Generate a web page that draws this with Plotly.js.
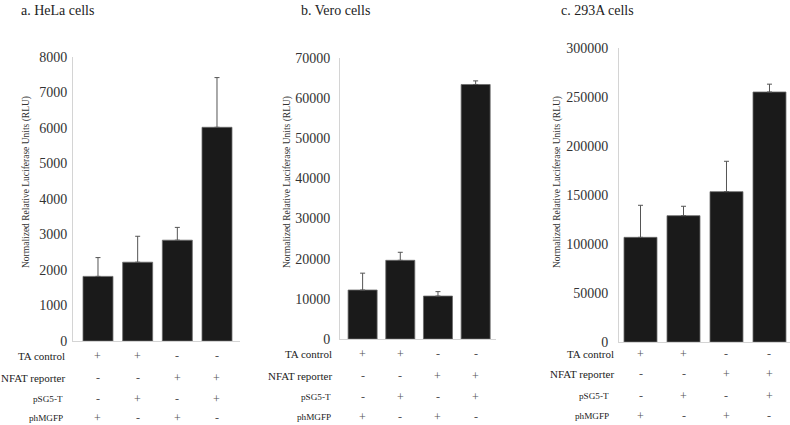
<!DOCTYPE html>
<html>
<head>
<meta charset="utf-8">
<script src="https://cdn.plot.ly/plotly-3.0.1.min.js"></script>
<style>html,body{margin:0;padding:0;background:#fff;}#chart{width:790px;height:425px;}</style>
</head>
<body>
<div id="chart"></div>
<script>
// ---- data ----
const conditions = ["1", "2", "3", "4"];
const helaValues = [1820, 2220, 2840, 6020];
const helaErrors = [530, 730, 360, 1400];
const veroValues = [12200, 19600, 10700, 63400];
const veroErrors = [4200, 2000, 1100, 900];
const a293Values = [106800, 128900, 153400, 255100];
const a293Errors = [32700, 9600, 31000, 8000];
const panelTitles = ["a. HeLa cells", "b. Vero cells", "c. 293A cells"];
const yTitle = "Normalized Relative Luciferase Units (RLU)";
const rowLabels = ["TA control", "NFAT reporter", "pSG5-T", "phMGFP"];
const taControl = ["+", "+", "-", "-"];
const nfatReporter = ["-", "-", "+", "+"];
const pSG5T = ["-", "+", "-", "+"];
const phMGFP = ["+", "-", "+", "-"];
const helaTicks = [0, 1000, 2000, 3000, 4000, 5000, 6000, 7000, 8000];
const veroTicks = [0, 10000, 20000, 30000, 40000, 50000, 60000, 70000];
const a293Ticks = [0, 50000, 100000, 150000, 200000, 250000, 300000];

// ---- styling / layout ----
const W = 790, H = 425;
const px = v => v / W;
const py = v => 1 - v / H;
const serif = "Liberation Serif";
const xs = conditions.map((_, i) => i);

const panels = [
  {vals: helaValues, errs: helaErrors, ticks: helaTicks, max: 8000,
   xdom: [73, 240], xr: [-0.63, 3.58], ydom: [341, 57], barW: 0.756, standoff: 2,
   titleX: 19, yTitleX: 26, labX: [66, 66, 64, 64], rowsY: [356, 378, 399, 418]},
  {vals: veroValues, errs: veroErrors, ticks: veroTicks, max: 70000,
   xdom: [340, 496], xr: [-0.6, 3.54], ydom: [339, 58], barW: 0.77, standoff: 6,
   titleX: 299, yTitleX: 287, labX: [333, 333, 332, 332], rowsY: [354, 376, 397, 417]},
  {vals: a293Values, errs: a293Errors, ticks: a293Ticks, max: 300000,
   xdom: [619, 790], xr: [-0.5, 3.477], ydom: [342, 48], barW: 0.767, standoff: 7,
   titleX: 559, yTitleX: 557, labX: [615, 615, 610, 610], rowsY: [353.5, 374, 396, 416]}
];
const rows = [taControl, nfatReporter, pSG5T, phMGFP];
const labSizes = [11, 11, 9.2, 9.2];

const traces = [];
const layout = {
  width: W, height: H,
  margin: {l: 0, r: 0, t: 0, b: 0},
  paper_bgcolor: "#fff", plot_bgcolor: "rgba(0,0,0,0)",
  showlegend: false,
  font: {family: serif, color: "#333"},
  annotations: []
};

panels.forEach((p, k) => {
  const n = k === 0 ? "" : String(k + 1);
  traces.push({
    type: "bar", x: xs, y: p.vals, width: p.barW,
    xaxis: "x" + n, yaxis: "y" + n,
    marker: {color: "#1a1a1a", line: {color: "#6a6a6a", width: 0.8}},
    error_y: {type: "data", array: p.errs, symmetric: false,
              arrayminus: p.errs.map(() => 0),
              color: "#555", thickness: 1, width: 2.5},
    hoverinfo: "skip"
  });
  layout["xaxis" + n] = {
    domain: [px(p.xdom[0]), px(p.xdom[1])],
    anchor: "y" + n, range: p.xr,
    showticklabels: false, ticks: "", showgrid: false, zeroline: false,
    showline: true, linecolor: "#d4d4d4", linewidth: 1, fixedrange: true
  };
  layout["yaxis" + n] = {
    domain: [py(p.ydom[0]), py(p.ydom[1])],
    anchor: "x" + n, range: [0, p.max],
    tickmode: "array", tickvals: p.ticks, ticktext: p.ticks.map(String),
    ticks: "", showgrid: false, zeroline: false,
    showline: true, linecolor: "#d4d4d4", linewidth: 1,
    ticklabelstandoff: p.standoff,
    tickfont: {family: serif, size: 14, color: "#333"}, fixedrange: true
  };
  layout.annotations.push({
    text: panelTitles[k], xref: "paper", yref: "paper",
    x: px(p.titleX), y: py(10), xanchor: "left", yanchor: "middle",
    showarrow: false, font: {family: serif, size: 14, color: "#222"}
  });
  layout.annotations.push({
    text: yTitle, xref: "paper", yref: "paper", textangle: -90,
    x: px(p.yTitleX), y: py(182), xanchor: "center", yanchor: "middle",
    showarrow: false, font: {family: serif, size: 9.5, color: "#333"}
  });
  rowLabels.forEach((lab, r) => {
    layout.annotations.push({
      text: lab, xref: "paper", yref: "paper", borderpad: 0,
      x: px(p.labX[r]), y: py(p.rowsY[r]), xanchor: "right", yanchor: "middle",
      showarrow: false, font: {family: serif, size: labSizes[r], color: "#222"}
    });
    rows[r].forEach((sym, i) => {
      layout.annotations.push({
        text: sym, xref: "x" + n, yref: "paper", borderpad: 0,
        x: xs[i], y: py(p.rowsY[r]), xanchor: "center", yanchor: "middle",
        showarrow: false, font: {family: serif, size: 12, color: "#555"}
      });
    });
  });
});

Plotly.newPlot("chart", traces, layout, {staticPlot: true, displayModeBar: false});
</script>
</body>
</html>
